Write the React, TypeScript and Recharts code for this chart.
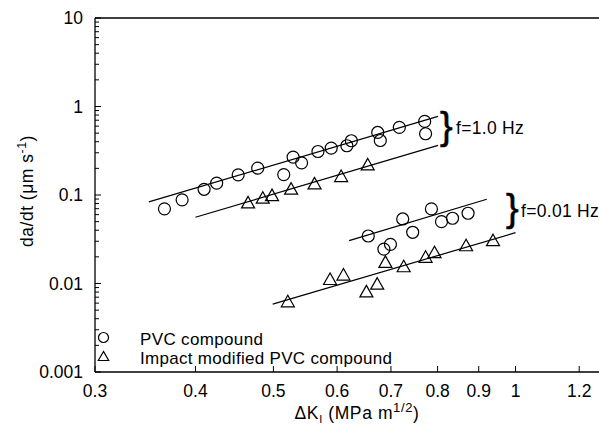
import React from "react";
import { ScatterChart, Scatter, XAxis, YAxis, ReferenceLine } from "recharts";

const FONT = '"Liberation Sans", Arial, Helvetica, sans-serif';

// f = 1.0 Hz, PVC compound
const pvcFastK = [0.366, 0.385, 0.41, 0.425, 0.452, 0.478, 0.515, 0.529, 0.542, 0.568, 0.59, 0.617, 0.625, 0.674, 0.679, 0.717, 0.771, 0.773];
const pvcFastRate = [0.0697, 0.0881, 0.116, 0.136, 0.169, 0.201, 0.17, 0.268, 0.231, 0.31, 0.339, 0.36, 0.41, 0.509, 0.413, 0.58, 0.678, 0.492];

// f = 1.0 Hz, impact modified PVC compound
const impactFastK = [0.465, 0.485, 0.498, 0.526, 0.5625, 0.607, 0.655];
const impactFastRate = [0.0814, 0.092, 0.0985, 0.1164, 0.1336, 0.1616, 0.219];

// f = 0.01 Hz, PVC compound
const pvcSlowK = [0.656, 0.724, 0.686, 0.699, 0.745, 0.786, 0.809, 0.835, 0.873];
const pvcSlowRate = [0.0344, 0.0536, 0.0245, 0.0277, 0.0379, 0.0696, 0.05, 0.0546, 0.0622];

// f = 0.01 Hz, impact modified PVC compound
const impactSlowK = [0.521, 0.588, 0.611, 0.6525, 0.673, 0.689, 0.726, 0.773, 0.793, 0.868, 0.9376];
const impactSlowRate = [0.00621, 0.0111, 0.01245, 0.00805, 0.00984, 0.01734, 0.01546, 0.01977, 0.0223, 0.0267, 0.0305];

// fitted power-law lines (end points)
const fitPvcFastK = [0.35, 0.801];
const fitPvcFastRate = [0.0835, 0.773];
const fitImpactFastK = [0.4, 0.801];
const fitImpactFastRate = [0.0561, 0.363];
const fitPvcSlowK = [0.621, 0.921];
const fitPvcSlowRate = [0.0305, 0.0896];
const fitImpactSlowK = [0.499, 1.0];
const fitImpactSlowRate = [0.00585, 0.0375];

const xTicks = [0.3, 0.4, 0.5, 0.6, 0.7, 0.8, 0.9, 1, 1.2];
const xTickLabels = ["0.3", "0.4", "0.5", "0.6", "0.7", "0.8", "0.9", "1", "1.2"];
const yMajor = [0.001, 0.01, 0.1, 1, 10];
const yMajorLabels = ["0.001", "0.01", "0.1", "1", "10"];
const yMinorSteps = [2, 3, 4, 5, 6, 7, 8, 9];

const zip = (k: number[], r: number[]) => k.map((v, i) => ({ k: v, rate: r[i] }));

const yTicks: number[] = [];
yMajor.forEach((m, i) => {
  yTicks.push(m);
  if (i < yMajor.length - 1) yMinorSteps.forEach((s) => yTicks.push(m * s));
});

const near = (a: number, b: number) => Math.abs(a - b) / b < 1e-6;

const YTick = (props: any) => {
  const { x, y, payload } = props;
  const idx = yMajor.findIndex((m) => near(payload.value, m));
  const major = idx >= 0;
  return (
    <g>
      <line x1={x} x2={x + (major ? 6 : 4)} y1={y} y2={y} stroke="#000" strokeWidth={1} />
      {major && (
        <text x={x - 12} y={y} dy="0.36em" textAnchor="end" fontFamily={FONT} fontSize={17.5} fill="#000">
          {yMajorLabels[idx]}
        </text>
      )}
    </g>
  );
};

const XTick = (props: any) => {
  const { x, y, payload } = props;
  const idx = xTicks.findIndex((t) => near(payload.value, t));
  return (
    <g>
      <line x1={x} x2={x} y1={y} y2={y - 6} stroke="#000" strokeWidth={1} />
      <text x={x} y={y + 25} textAnchor="middle" fontFamily={FONT} fontSize={17.5} fill="#000">
        {idx >= 0 ? xTickLabels[idx] : ""}
      </text>
    </g>
  );
};

const Circle = (props: any) => (
  <circle cx={props.cx} cy={props.cy} r={6} fill="none" stroke="#000" strokeWidth={1.2} />
);

const Triangle = (props: any) => {
  const { cx, cy } = props;
  return (
    <polygon
      points={`${cx},${cy - 6.5} ${cx - 6.5},${cy + 5} ${cx + 6.5},${cy + 5}`}
      fill="none"
      stroke="#000"
      strokeWidth={1.2}
    />
  );
};

const NoDot = () => <g />;

const fitLine = { stroke: "#000", strokeWidth: 1.2 };

export default function App() {
  return (
    <div style={{ position: "absolute", left: 0, top: 0, width: 599, height: 424, background: "#fff" }}>
      <ScatterChart width={599} height={424} margin={{ top: 18, right: 0, bottom: 0, left: 0 }}>
        <XAxis
          type="number"
          dataKey="k"
          scale="log"
          domain={[0.3, 1.27]}
          allowDataOverflow
          ticks={xTicks}
          interval={0}
          height={52}
          tickSize={0}
          tickMargin={0}
          tickLine={false}
          tick={<XTick />}
          axisLine={{ stroke: "#000", strokeWidth: 1.3 }}
        />
        <YAxis
          type="number"
          dataKey="rate"
          scale="log"
          domain={[0.001, 10]}
          allowDataOverflow
          ticks={yTicks}
          interval={0}
          width={95}
          tickSize={0}
          tickMargin={0}
          tickLine={false}
          tick={<YTick />}
          axisLine={{ stroke: "#000", strokeWidth: 1.3 }}
        />
        <ReferenceLine y={10} stroke="#000" strokeWidth={1.3} />

        <Scatter data={zip(fitPvcFastK, fitPvcFastRate)} line={fitLine} lineType="joint" shape={<NoDot />} isAnimationActive={false} />
        <Scatter data={zip(fitImpactFastK, fitImpactFastRate)} line={fitLine} lineType="joint" shape={<NoDot />} isAnimationActive={false} />
        <Scatter data={zip(fitPvcSlowK, fitPvcSlowRate)} line={fitLine} lineType="joint" shape={<NoDot />} isAnimationActive={false} />
        <Scatter data={zip(fitImpactSlowK, fitImpactSlowRate)} line={fitLine} lineType="joint" shape={<NoDot />} isAnimationActive={false} />

        <Scatter data={zip(pvcFastK, pvcFastRate)} shape={<Circle />} isAnimationActive={false} />
        <Scatter data={zip(impactFastK, impactFastRate)} shape={<Triangle />} isAnimationActive={false} />
        <Scatter data={zip(pvcSlowK, pvcSlowRate)} shape={<Circle />} isAnimationActive={false} />
        <Scatter data={zip(impactSlowK, impactSlowRate)} shape={<Triangle />} isAnimationActive={false} />
      </ScatterChart>

      <svg
        width={599}
        height={424}
        style={{ position: "absolute", left: 0, top: 0, pointerEvents: "none" }}
        fontFamily={FONT}
        fill="#000"
      >
        {/* axis titles */}
        <text transform="translate(33,191) rotate(-90)" textAnchor="middle" fontSize={17.5} letterSpacing={0.5}>
          da/dt (μm s<tspan dy={-7} fontSize={12.5}>-1</tspan>
          <tspan dy={7}>)</tspan>
        </text>
        <text x={357} y={418.5} textAnchor="middle" fontSize={17.5} letterSpacing={0.6}>
          ΔK<tspan dy={4} fontSize={11}>I</tspan>
          <tspan dy={-4}> (MPa m</tspan>
          <tspan dy={-7} fontSize={13}>1/2</tspan>
          <tspan dy={7}>)</tspan>
        </text>

        {/* frequency annotations */}
        <text x={440} y={139} fontSize={38} stroke="#000" strokeWidth={0.6}>{"}"}</text>
        <text x={456} y={133.5} fontSize={17.5} letterSpacing={0.3}>f=1.0 Hz</text>
        <text x={506} y={221} fontSize={38} stroke="#000" strokeWidth={0.6}>{"}"}</text>
        <text x={521} y={217} fontSize={17.5} letterSpacing={0.3}>f=0.01 Hz</text>

        {/* legend */}
        <circle cx={103.5} cy={337.5} r={5} fill="none" stroke="#000" strokeWidth={1.2} />
        <text x={140} y={344.5} fontSize={17} letterSpacing={0.35}>PVC compound</text>
        <polygon points="103.5,351.5 98.3,360.5 108.7,360.5" fill="none" stroke="#000" strokeWidth={1.2} />
        <text x={140} y={364} fontSize={17} letterSpacing={0.3}>Impact modified PVC compound</text>
      </svg>
    </div>
  );
}
